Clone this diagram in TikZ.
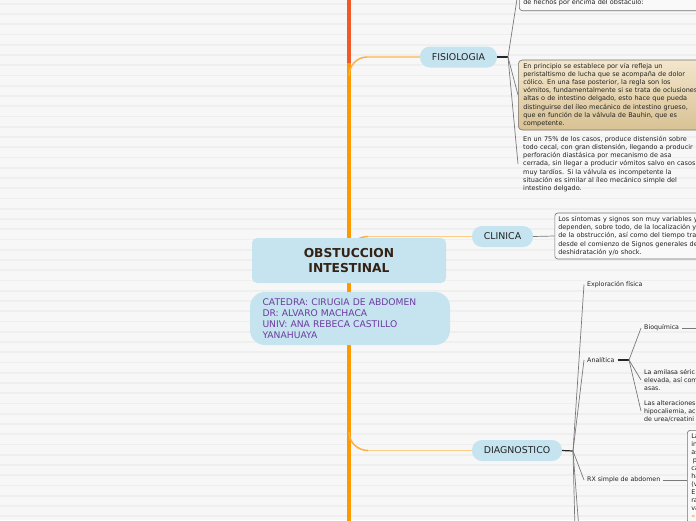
\documentclass[tikz,border=0pt]{standalone}
\usepackage{fontspec}
\setmainfont{DejaVu Sans}
\definecolor{bgcol}{RGB}{247,247,247}
\definecolor{stripecol}{RGB}{239,239,239}
\definecolor{pillblue}{RGB}{197,228,240}
\definecolor{trunkorange}{RGB}{255,153,0}
\definecolor{trunkred}{RGB}{240,90,40}
\definecolor{branchor}{RGB}{255,204,136}
\definecolor{branchcurve}{RGB}{255,176,70}
\definecolor{tantop}{RGB}{243,230,204}
\definecolor{tanbot}{RGB}{216,194,148}
\definecolor{boxborder}{RGB}{115,115,115}
\definecolor{notefill}{RGB}{249,249,249}
\definecolor{textdark}{RGB}{34,34,34}
\definecolor{maintext}{RGB}{52,34,20}
\definecolor{subpurple}{RGB}{110,58,160}
\definecolor{linkorange}{RGB}{240,150,40}
\begin{document}
\begin{tikzpicture}[x=1pt,y=-1pt,
  trunkline/.style={line width=4pt},
  branchline/.style={draw=branchor, line width=1.2pt},
  branchbend/.style={draw=branchcurve, line width=1.5pt},
  pill/.style={fill=pillblue, rounded corners=10pt, minimum height=21pt, inner sep=0pt,
    font=\fontsize{9.4}{11}\selectfont, text=textdark},
  mainbox/.style={fill=pillblue, rounded corners=5pt, minimum width=194pt, minimum height=45pt,
    align=center, inner sep=0pt, font=\fontsize{12.3}{14.5}\selectfont\bfseries, text=maintext},
  subbox/.style={fill=pillblue, rounded corners=15pt, minimum height=53pt, text width=175pt,
    inner xsep=12.5pt, inner ysep=0pt, align=left, font=\fontsize{9.2}{11.1}\selectfont, text=subpurple},
  joinline/.style={draw=black!85, line width=1.2pt},
  subline/.style={draw=black!52, line width=0.7pt},
  notebox/.style={draw=boxborder, fill=notefill, rounded corners=3pt, line width=0.6pt,
    align=left, text=textdark, font=\fontsize{6.5}{8.2}\selectfont},
  tanbox/.style={draw=boxborder, top color=tantop, bottom color=tanbot, rounded corners=4pt,
    line width=0.6pt, align=left, text=textdark, font=\fontsize{6.5}{8.1}\selectfont},
  plaintext/.style={align=left, text=textdark, inner ysep=0pt, font=\fontsize{6.5}{8.1}\selectfont},
  leaf/.style={inner xsep=3pt, inner ysep=1pt, text=textdark, font=\fontsize{6.3}{8}\selectfont},
  leafml/.style={inner xsep=3pt, inner ysep=0pt, align=left, text=textdark, font=\fontsize{6.3}{8}\selectfont}
]
\useasboundingbox (0,0) rectangle (696,520);
\fill[bgcol] (0,0) rectangle (696,520);
\foreach \k in {0,...,50} {\fill[stripecol] (0,{2.9+10.25*\k}) rectangle (696,{4.5+10.25*\k});}

% trunk
\coordinate (tTop) at (349,-5);
\coordinate (tMid) at (349,63);
\coordinate (tBot) at (349,525);
\draw[trunkline, draw=trunkred] (tTop) -- (tMid);
\draw[trunkline, draw=trunkorange] (tMid) -- (tBot);

% branch nodes
\node[pill, minimum width=77pt] (fis) at (458.5,57) {FISIOLOGIA};
\node[pill, minimum width=61pt] (cli) at (502.5,236.5) {CLINICA};
\node[pill, minimum width=90pt] (dia) at (517,450.5) {DIAGNOSTICO};

% branches from trunk
\coordinate (bF) at (349,76);
\coordinate (bFe) at (367,57);
\coordinate (bC) at (349,254);
\coordinate (bCe) at (368,236.5);
\coordinate (bD) at (349,432);
\coordinate (bDe) at (368,450.5);
\draw[branchline] (bFe) -- (fis.west);
\draw[branchline] (bCe) -- (cli.west);
\draw[branchline] (bDe) -- (dia.west);
\draw[branchbend] (bF) to[out=90,in=180] (bFe);
\draw[branchbend] (bC) to[out=90,in=180] (bCe);
\draw[branchbend] (bD) to[out=-90,in=180] (bDe);

% central topic
\node[mainbox] (main) at (349,260.5) {OBSTUCCION\\INTESTINAL};
\node[subbox] (sub) at (350,318.5) {CATEDRA: CIRUGIA DE ABDOMEN\\DR: ALVARO MACHACA\\UNIV: ANA REBECA CASTILLO\\YANAHUAYA};

% FISIOLOGIA children
\coordinate (fj) at (508,57);
\node[notebox, anchor=south west, text width=182pt, inner xsep=4pt, inner ysep=3.4pt,
  text height=40pt, text depth=2.4pt] (f1) at (519,11) {de hechos por encima del obstáculo:};
\node[tanbox, anchor=west, text width=185pt, inner xsep=5pt, minimum height=70pt] (f2) at (518,95)
  {En principio se establece por vía refleja un\\
   peristaltismo de lucha que se acompaña de dolor\\
   cólico. En una fase posterior, la regla son los\\
   vómitos, fundamentalmente si se trata de oclusiones\\
   altas o de intestino delgado, esto hace que pueda\\
   distinguirse del íleo mecánico de intestino grueso,\\
   que en función de la válvula de Bauhin, que es\\
   competente.};
\node[plaintext, anchor=west, text width=185pt, inner xsep=5pt] (f3) at (518,164)
  {En un 75\% de los casos, produce distensión sobre\\
   todo cecal, con gran distensión, llegando a producir\\
   perforación diastásica por mecanismo de asa\\
   cerrada, sin llegar a producir vómitos salvo en casos\\
   muy tardíos. Si la válvula es incompetente la\\
   situación es similar al íleo mecánico simple del\\
   intestino delgado.};
\draw[joinline] (fis.east) -- (fj);
\draw[subline] (fj) -- (f1.west);
\draw[subline] (fj) -- (f2.west);
\draw[subline] (fj) -- (f3.west);

% CLINICA child
\node[notebox, anchor=west, text width=180pt, inner xsep=3.5pt, minimum height=46pt] (c1) at (554.5,236)
  {Los síntomas y signos son muy variables y\\
   dependen, sobre todo, de la localización y\\
   de la obstrucción, así como del tiempo tra\\
   desde el comienzo de Signos generales de\\
   deshidratación y/o shock.};
\draw[subline] (cli.east) -- (c1.west);

% DIAGNOSTICO children
\coordinate (dj) at (573,451);
\draw[joinline] (dia.east) -- (dj);
\node[leaf, anchor=west] (d1) at (584,284.5) {Exploración física};
\node[leaf, anchor=west] (d2) at (584,360) {Analítica};
\node[leaf, anchor=west] (d3) at (584,480) {RX simple de abdomen};
\coordinate (d4) at (575,530);
\coordinate (d5) at (579,530);
\draw[subline] (dj) -- (d1.west);
\draw[subline] (dj) -- (d2.west);
\draw[subline] (dj) -- (d3.west);
\draw[subline] (dj) -- (d4);
\draw[subline] (dj) -- (d5);

% Analitica children
\coordinate (aj) at (629,360);
\draw[joinline] (d2.east) -- (aj);
\node[leaf, anchor=west] (a1) at (641,328) {Bioquímica};
\node[leafml, anchor=west] (a2) at (641,380) {La amilasa séric\\elevada, así com\\asas.};
\node[leafml, anchor=west] (a3) at (641,411) {Las alteraciones\\hipocaliemia, ac\\de urea/creatini};
\coordinate (a1r) at (702,328);
\draw[subline] (aj) -- (a1.west);
\draw[subline] (aj) -- (a2.west);
\draw[subline] (aj) -- (a3.west);
\draw[subline] (a1.east) -- (a1r);

% RX child box
\node[notebox, anchor=north west, text width=40pt, inner xsep=4pt, inner ysep=2.5pt,
  font=\fontsize{6.5}{8}\selectfont] (rx) at (687,430)
  {\strut La\\in\\as\\\hspace*{1.5pt}p\\ca\\ha\\(v\\E\\ra\\va\\\textcolor{linkorange}{«}\strut};
\draw[subline] (d3.east) -- (d3.east -| rx.west);
\end{tikzpicture}
\end{document}
